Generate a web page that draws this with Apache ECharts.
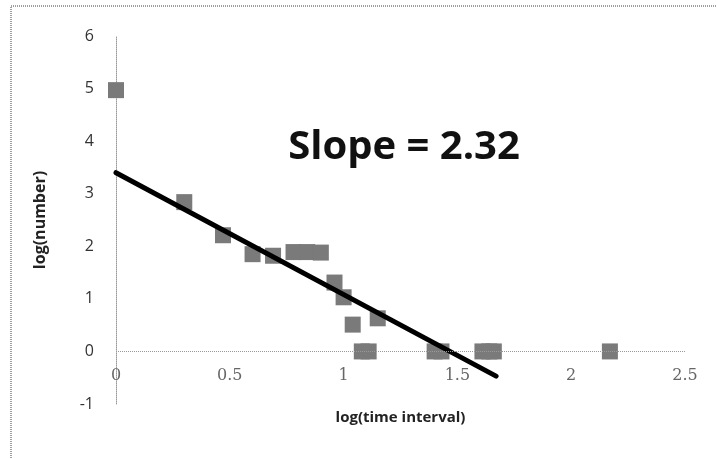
<!DOCTYPE html>
<html>
<head>
<meta charset="utf-8">
<script src="https://cdn.jsdelivr.net/npm/echarts@6/dist/echarts.min.js"></script>
<style>
  html, body { margin: 0; padding: 0; background: #fff; }
  #chart { width: 717px; height: 458px; }
</style>
</head>
<body>
<div id="chart"></div>
<script>
// observed points: [log(time interval), log(number)]
const pointsX = [0, 0.30, 0.47, 0.60, 0.69, 0.78, 0.84, 0.90, 0.96, 1.00, 1.04, 1.08, 1.11, 1.15, 1.40, 1.43, 1.61, 1.64, 1.66, 2.17];
const pointsY = [4.97, 2.84, 2.21, 1.85, 1.82, 1.89, 1.89, 1.88, 1.31, 1.03, 0.51, 0, 0, 0.63, 0, 0, 0, 0, 0, 0];

// fitted line end points
const fitX = [0, 1.67];
const fitY = [3.40, -0.47];

const xTicks = [0, 0.5, 1, 1.5, 2, 2.5];
const yTicks = [-1, 0, 1, 2, 3, 4, 5, 6];

const chart = echarts.init(document.getElementById('chart'));

const option = {
    animation: false,
    backgroundColor: '#fff',
    graphic: [{
        type: 'rect',
        shape: { x: 11, y: 6, width: 720, height: 470 },
        style: { fill: 'none', stroke: '#a0a0a0', lineWidth: 2, lineDash: [1, 1] },
        silent: true
    }],
    title: {
        text: 'Slope = 2.32',
        left: 399,
        top: 123,
        textAlign: 'center',
        textStyle: { fontFamily: 'Open Sans', fontWeight: 'bold', fontSize: 40, color: '#111' }
    },
    grid: { left: 116, right: 32, top: 36, bottom: 54, outerBoundsMode: 'none' },
    xAxis: {
        type: 'value',
        min: xTicks[0],
        max: xTicks[xTicks.length - 1],
        interval: 0.5,
        name: 'log(time interval)',
        nameLocation: 'middle',
        nameGap: -10,
        nameTextStyle: { fontFamily: 'Open Sans', fontWeight: 'bold', fontSize: 15, color: '#222' },
        axisLine: { show: false, onZero: false },
        axisTick: { show: false },
        splitLine: { show: false },
        axisLabel: {
            margin: -36,
            fontFamily: 'DejaVu Serif',
            fontSize: 16,
            color: '#666',
            formatter: v => xTicks.includes(v) ? String(v) : ''
        }
    },
    yAxis: {
        type: 'value',
        min: yTicks[0],
        max: yTicks[yTicks.length - 1],
        interval: 1,
        name: 'log(number)',
        nameLocation: 'middle',
        nameGap: 68,
        nameRotate: 90,
        nameTextStyle: { fontFamily: 'Open Sans', fontWeight: 'bold', fontSize: 16, color: '#222' },
        axisLine: { show: true, onZero: false, lineStyle: { color: '#999', type: 'dotted', width: 1 } },
        axisTick: { show: false },
        splitLine: { show: false },
        axisLabel: {
            margin: 22,
            fontFamily: 'Open Sans',
            fontSize: 16,
            color: '#333'
        }
    },
    series: [
        {
            type: 'scatter',
            symbol: 'rect',
            symbolSize: 16,
            data: pointsX.map((x, i) => [x, pointsY[i]]),
            itemStyle: { color: '#7a7a7a', opacity: 1 },
            markLine: {
                silent: true,
                symbol: 'none',
                label: { show: false },
                lineStyle: { color: '#999', type: 'dotted', width: 1 },
                data: [{ yAxis: 0 }]
            },
            z: 2
        },
        {
            type: 'line',
            data: fitX.map((x, i) => [x, fitY[i]]),
            showSymbol: false,
            symbol: 'none',
            lineStyle: { color: '#000', width: 5, cap: 'round' },
            z: 3
        }
    ]
};

chart.setOption(option);
</script>
</body>
</html>
